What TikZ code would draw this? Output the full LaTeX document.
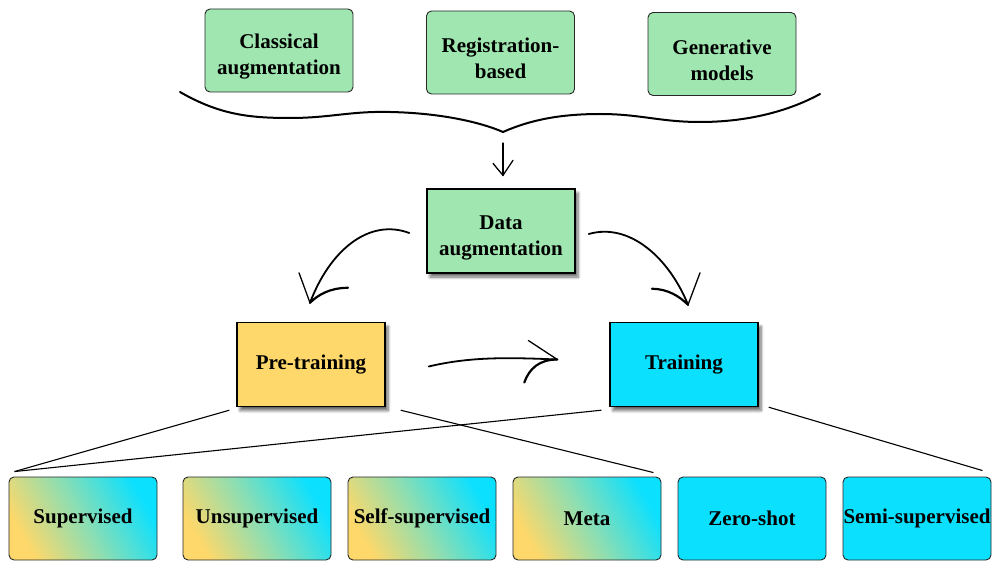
\documentclass[tikz,border=0pt]{standalone}
\usepackage{fontspec}
\setmainfont{Liberation Serif}
\usetikzlibrary{calc,shadows.blur}
\definecolor{boxgreen}{RGB}{160,230,176}
\definecolor{boxyellow}{RGB}{254,216,106}
\definecolor{boxcyan}{RGB}{11,224,255}
\definecolor{edgegray}{RGB}{40,40,40}
\newcommand{\topstrut}{\rule{0pt}{27pt}}
\tikzset{
  lbl/.style={font=\fontsize{21}{26}\selectfont\bfseries, align=center, inner sep=0pt, text=black},
  topbox/.style={lbl, draw=edgegray, line width=0.9pt, rounded corners=5pt, fill=boxgreen,
     minimum width=148pt, minimum height=83pt},
  midbox/.style={lbl, draw=black, line width=1.4pt, minimum width=148pt, minimum height=84pt,
     blur shadow={shadow xshift=3pt, shadow yshift=-4pt, shadow blur steps=6, shadow blur radius=3pt, shadow opacity=60}},
  botbox/.style={lbl, draw=edgegray, line width=0.9pt, rounded corners=5pt,
     minimum width=148pt, minimum height=83pt},
  gradbox/.style={botbox, top color=boxcyan, bottom color=boxyellow, middle color=boxcyan!50!boxyellow!80!boxgreen, shading angle=-60},
  cyanbox/.style={botbox, fill=boxcyan},
  hand/.style={line width=1.8pt, line cap=round},
  barb/.style={line width=1.3pt, line cap=round},
  cbarb/.style={line width=2.2pt, line cap=round},
  thin/.style={line width=1.1pt},
}
\begin{document}
\begin{tikzpicture}[x=1pt,y=-1pt]
\useasboundingbox (0,0) rectangle (992,561);
% top boxes
\node[topbox] (cls) at (279,50.5) {\topstrut Classical\\augmentation};
\node[topbox] (reg) at (500.5,52.5) {\topstrut Registration-\\based};
\node[topbox] (gen) at (722,54) {\topstrut Generative\\models};
% brace
\draw[line width=2pt, line cap=round] (180,92) .. controls (220,115) and (250,118) .. (290,118)
   .. controls (330,118) and (350,111) .. (390,112)
   .. controls (440,113) and (480,122) .. (503,132)
   .. controls (530,120) and (560,114) .. (600,114)
   .. controls (640,114) and (660,122) .. (700,122)
   .. controls (760,122) and (800,105) .. (820,94);
\coordinate (bracetip) at (503,132);
% middle boxes
\node[midbox, fill=boxgreen] (dat) at (501,231) {\topstrut Data\\augmentation};
\node[midbox, fill=boxyellow] (pre) at (311,364.5) {Pre-training};
\node[midbox, fill=boxcyan] (trn) at (684,364.5) {Training};
% bottom boxes
\node[gradbox] (sup) at (83,518.5) {Supervised};
\node[gradbox] (uns) at (257,518.5) {Unsupervised};
\node[gradbox] (ssl) at (422,518.5) {Self-supervised};
\node[gradbox] (met) at (587,518.5) {Meta};
\node[cyanbox] (zer) at (752,518.5) {Zero-shot};
\node[cyanbox] (sem) at (917,518.5) {Semi-supervised};
% brace arrow
\coordinate (ba1) at ($(bracetip)+(0,11)$);
\coordinate (ba2) at ($(dat.north)+(2,-13)$);
\draw[barb] (ba1) -- (ba2);
\draw[barb] ($(ba2)+(-10,-12)$) .. controls ($(ba2)+(-6,-7)$) .. (ba2) -- ($(ba2)+(10,-15)$);
% left curved arrow
\coordinate (la1) at ($(dat.west)+(-17,2)$);
\coordinate (la2) at ($(pre.north)+(-1,-19)$);
\draw[hand] (la1) .. controls ($(la1)+(-40,-15)$) and ($(la2)+(20,-53)$) .. (la2);
\draw[barb] ($(la2)+(-11,-30)$) -- (la2);
\draw[cbarb] ($(la2)+(38,-15)$) .. controls ($(la2)+(20,-15)$) and ($(la2)+(8,-8)$) .. (la2);
% right curved arrow
\coordinate (ra1) at ($(dat.east)+(13,3)$);
\coordinate (ra2) at ($(trn.north)+(4,-17)$);
\draw[hand] (ra1) .. controls ($(ra1)+(42,-12)$) and ($(ra2)+(-18,-45)$) .. (ra2);
\draw[barb] ($(ra2)+(12,-32)$) -- (ra2);
\draw[cbarb] ($(ra2)+(-36,-16)$) .. controls ($(ra2)+(-20,-16)$) and ($(ra2)+(-8,-8)$) .. (ra2);
% middle arrow
\coordinate (ma1) at ($(pre.east)+(43,2)$);
\coordinate (ma2) at ($(trn.west)+(-52,-5)$);
\draw[hand] (ma1) .. controls ($(ma1)+(42,-10)$) and ($(ma2)+(-48,-2)$) .. (ma2);
\draw[barb] ($(ma2)+(-29,-19)$) -- (ma2);
\draw[cbarb] ($(ma2)+(-33,23)$) .. controls ($(ma2)+(-28,9)$) and ($(ma2)+(-18,0)$) .. (ma2);
% tree lines
\draw[thin] ($(pre.south west)+(-7,3)$) -- ($(sup.north west)+(6,-5)$);
\draw[thin] ($(trn.south west)+(-8,3)$) -- ($(sup.north west)+(6,-5)$);
\draw[thin] ($(pre.south east)+(15,3)$) -- ($(met.north east)+(-8,-4)$);
\draw[thin] ($(trn.south east)+(10,0)$) -- ($(sem.north east)+(-9,-6)$);
\end{tikzpicture}
\end{document}
